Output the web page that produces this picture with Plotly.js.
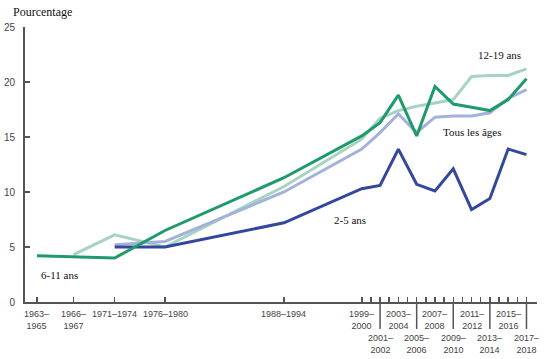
<!DOCTYPE html>
<html>
<head>
<meta charset="utf-8">
<script src="https://cdn.plot.ly/plotly-3.0.1.min.js"></script>
<style>html,body{margin:0;padding:0;background:#fff;}#chart{width:548px;height:359px;}</style>
</head>
<body>
<div id="chart"></div>
<script>
// Survey periods (midpoint year used for axis position) and labels
const periodMid = [1964, 1968, 1972.5, 1978, 1991, 1999.5, 2001.5, 2003.5, 2005.5, 2007.5, 2009.5, 2011.5, 2013.5, 2015.5, 2017.5];
const tickLabels = ["1963–<br>1965", "1966–<br>1967", "1971–1974", "1976–1980", "1988–1994",
  "1999–<br>2000", "2001–<br>2002", "2003–<br>2004", "2005–<br>2006", "2007–<br>2008",
  "2009–<br>2010", "2011–<br>2012", "2013–<br>2014", "2015–<br>2016", "2017–<br>2018"];
// lower row of labels (staggered)
const lowerRow = [false, false, false, false, false, false, true, false, true, false, true, false, true, false, true];

// Series values (%)
const age2to5   = [null, null, 5.0, 5.0, 7.2, 10.3, 10.6, 13.9, 10.7, 10.1, 12.1, 8.4, 9.4, 13.9, 13.4];
const age6to11  = [4.2, null, 4.0, 6.5, 11.3, 15.1, 16.3, 18.8, 15.1, 19.6, 18.0, 17.7, 17.4, 18.4, 20.3];
const age12to19 = [null, 4.3, 6.1, 5.0, 10.5, 14.8, 16.7, 17.4, 17.8, 18.1, 18.4, 20.5, 20.6, 20.6, 21.2];
const allAges   = [null, null, 5.2, 5.5, 10.0, 13.9, 15.4, 17.1, 15.4, 16.8, 16.9, 16.9, 17.2, 18.5, 19.3];

const seriesNames = ["12-19 ans", "Tous les âges", "2-5 ans", "6-11 ans"];
const seriesColors = ["#a6d4c0", "#a3b2dc", "#33489c", "#1f9a6b"];
const seriesData = [age12to19, allAges, age2to5, age6to11];
// label anchor points (year, value)
const labelYear = [2014.6, 2011.6, 1998.2, 1966.5];
const labelVal  = [22.45, 15.45, 7.45, 2.5];

const traces = seriesData.map((d, i) => ({
  x: periodMid, y: d, type: 'scatter', mode: 'lines', name: seriesNames[i],
  connectgaps: true, line: {color: seriesColors[i], width: 3}, hoverinfo: 'skip'
}));

// minor ticks between two-year cycles
const minorVals = [];
for (let i = 5; i < periodMid.length - 1; i++) minorVals.push((periodMid[i] + periodMid[i + 1]) / 2);

const axisColor = '#555';
const annotations = [];
periodMid.forEach((x, i) => {
  annotations.push({
    x: x, xref: 'x', y: 0, yref: 'paper', yanchor: 'top', xanchor: 'center',
    yshift: lowerRow[i] ? -29 : -5, showarrow: false, text: tickLabels[i],
    font: {family: 'Liberation Sans, Arial, sans-serif', size: 9, color: '#444'}
  });
});
seriesNames.forEach((n, i) => {
  annotations.push({
    x: labelYear[i], y: labelVal[i], xref: 'x', yref: 'y', showarrow: false, text: n,
    font: {family: 'Liberation Serif, Times New Roman, serif', size: 11, color: '#111'}
  });
});
annotations.push({
  x: 0, xref: 'paper', xanchor: 'left', xshift: -14, y: 1, yref: 'paper', yanchor: 'bottom', yshift: 6,
  showarrow: false, text: 'Pourcentage',
  font: {family: 'Liberation Serif, Times New Roman, serif', size: 12, color: '#111'}
});

const shapes = [];
periodMid.forEach((x, i) => {
  if (lowerRow[i]) shapes.push({type: 'line', xref: 'x', yref: 'paper', x0: x, x1: x, y0: 0, y1: -27 / 275,
    line: {color: axisColor, width: 1.5}});
});

const layout = {
  width: 548, height: 359,
  margin: {l: 25, r: 11, t: 27, b: 57, pad: 0},
  paper_bgcolor: '#fff', plot_bgcolor: '#fff',
  showlegend: false,
  xaxis: {
    range: [1962.7, 2018.65], showgrid: false, zeroline: false,
    showline: true, linecolor: axisColor, linewidth: 2,
    tickmode: 'array', tickvals: periodMid, showticklabels: false,
    ticks: 'inside', ticklen: 5, tickwidth: 1.5, tickcolor: axisColor,
    minor: {tickmode: 'array', tickvals: minorVals, ticks: 'inside', ticklen: 5, tickwidth: 1.5, tickcolor: axisColor, showgrid: false}
  },
  yaxis: {
    range: [0, 25], dtick: 5, tick0: 0, showgrid: false, zeroline: false,
    showline: true, linecolor: axisColor, linewidth: 2,
    ticks: 'inside', ticklen: 5, tickwidth: 1.5, tickcolor: axisColor,
    ticklabelstandoff: 6,
    tickfont: {family: 'Liberation Sans, Arial, sans-serif', size: 10, color: '#444'}
  },
  annotations: annotations,
  shapes: shapes
};

Plotly.newPlot('chart', traces, layout, {displayModeBar: false, staticPlot: true});
</script>
</body>
</html>
